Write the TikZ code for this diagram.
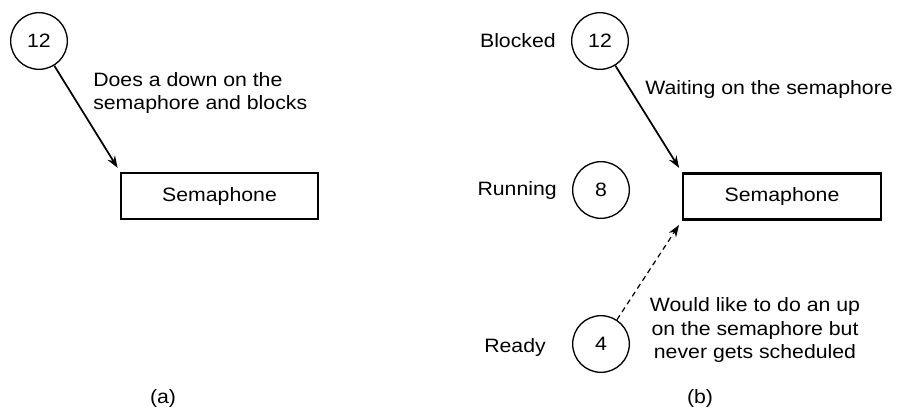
\documentclass[tikz,border=0pt]{standalone}
\usepackage{fontspec}
\setmainfont{Liberation Sans}[FakeStretch=1.1]
\usetikzlibrary{arrows.meta}
\begin{document}
\begin{tikzpicture}[x=0.75pt,y=-0.75pt,
  every node/.style={font=\fontsize{14.5}{17.5}\selectfont},
  proc/.style={circle,draw,line width=1pt,minimum size=42.5pt,inner sep=0pt},
  semabox/.style={draw,minimum width=#1,minimum height=34.5pt,inner sep=0pt},
  lbl/.style={inner sep=0pt},
  arr/.style={-{Stealth[length=9pt,width=6.5pt]},line width=1.3pt,shorten >=4pt},
  darr/.style={-{Stealth[length=9pt,width=6.5pt]},line width=0.9pt,dash pattern=on 4pt off 3pt,shorten >=4pt}
]
\useasboundingbox (0,0) rectangle (900,418);
% (a)
\node[proc] (c12a) at (39,41) {12};
\node[semabox=147.75pt,line width=0.9pt] (boxa) at (219.5,196) {Semaphone};
\node[lbl,anchor=west,align=left] (ta) at (93,93) {Does a down on the\\semaphore and blocks};
\draw[arr] (c12a) -- (boxa.north west);
\node (capa) at (163,398) {(a)};
% (b)
\node[proc] (c12b) at (600,41) {12};
\node[proc] (c8) at (601,190) {8};
\node[proc] (c4) at (601,344) {4};
\node[lbl,anchor=east] (blk) at (556,41) {Blocked};
\node[lbl,anchor=east] (run) at (557,190) {Running};
\node[lbl,anchor=east] (rdy) at (546,347) {Ready};
\node[semabox=148.5pt,line width=1.6pt] (boxb) at (782,196.5) {Semaphone};
\node[lbl,anchor=west] (tw) at (645,89) {Waiting on the semaphore};
\node[lbl,align=center] (tu) at (755,330) {Would like to do an up\\on the semaphore but\\never gets scheduled};
\draw[arr] (c12b) -- (boxb.north west);
\draw[darr] (c4) -- (boxb.south west);
\node (capb) at (700,398) {(b)};
\end{tikzpicture}
\end{document}
